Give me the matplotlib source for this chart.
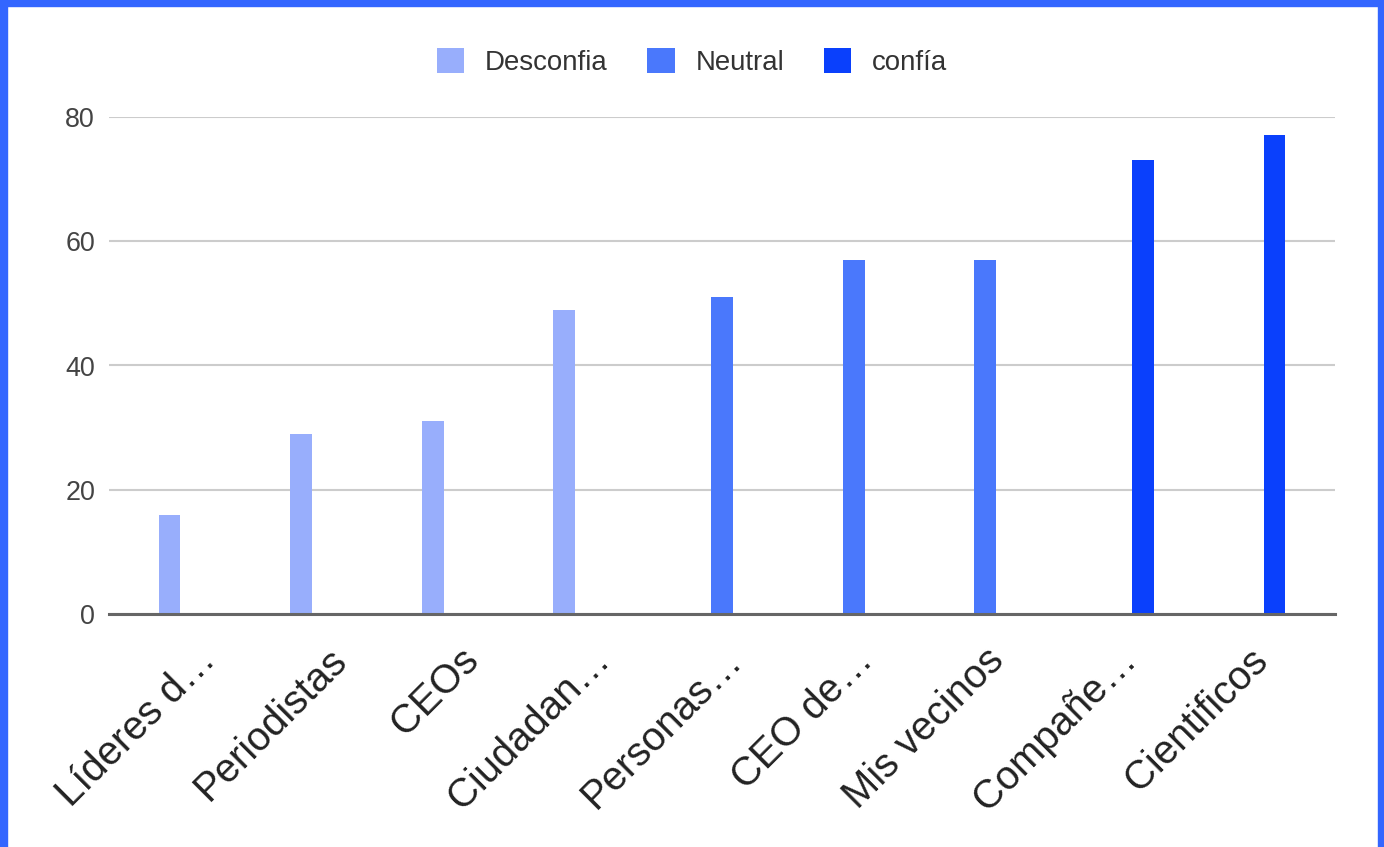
import matplotlib
matplotlib.use("Agg")
import matplotlib.pyplot as plt
from matplotlib.patches import Patch, Rectangle
import numpy as np

plt.rcParams['font.family'] = ['Liberation Sans', 'DejaVu Sans']

categories = ["Líderes d…", "Periodistas", "CEOs", "Ciudadan…", "Personas…",
              "CEO de…", "Mis vecinos", "Compañe…", "Cientificos"]
values = [16, 29, 31, 49, 51, 57, 57, 73, 77]
groups = ["Desconfia", "Desconfia", "Desconfia", "Desconfia", "Neutral",
          "Neutral", "Neutral", "confía", "confía"]
series = ["Desconfia", "Neutral", "confía"]
colors = {"Desconfia": "#98aefc", "Neutral": "#4a78fc", "confía": "#0a40fc"}
yticks = [0, 20, 40, 60, 80]

W, H = 1384, 847
fig = plt.figure(figsize=(W / 100, H / 100), dpi=100)
fig.patch.set_facecolor("white")

ax = fig.add_axes([109 / W, 1 - 614.3 / H, (1335 - 109) / W, (614.3 - 116.7) / H])
x = np.arange(len(categories))
slot = 0.2
for s_i, s in enumerate(series):
    idx = [i for i, g in enumerate(groups) if g == s]
    ax.bar(x[idx] + (s_i - 1) * slot, [values[i] for i in idx], width=0.167,
           color=colors[s], zorder=3, linewidth=0)

ax.set_xlim(-0.66, len(categories) - 1 + 0.66)
ax.set_ylim(0, 80)
ax.set_yticks(yticks)
ax.set_yticklabels([str(t) for t in yticks], fontsize=19.4, color="#444444")
ax.yaxis.grid(True, color="#cccccc", linewidth=1.5, zorder=0)
ax.set_axisbelow(True)
for sp in ["top", "right", "left"]:
    ax.spines[sp].set_visible(False)
ax.spines["bottom"].set_color("#666666")
ax.spines["bottom"].set_linewidth(2.2)
ax.spines["bottom"].set_zorder(4)
ax.tick_params(axis="y", length=0, pad=10)
ax.tick_params(axis="x", length=0, pad=19)
ax.set_xticks(x)
ax.set_xticklabels(categories, rotation=45, ha="right", va="top",
                   rotation_mode="anchor", fontsize=28.8, color="#222222")

handles = [Patch(facecolor=colors[s], edgecolor="none") for s in series]
fig.legend(handles, series, loc="center", bbox_to_anchor=(0.5, 1 - 62 / H),
           ncol=3, frameon=False, fontsize=19.9, handlelength=0.98,
           handleheight=1.0, handletextpad=0.75, columnspacing=1.45,
           labelcolor="#333333")

border = "#3366ff"
fig.patches.append(Rectangle((0, 0), 7 / W, 1, transform=fig.transFigure,
                             color=border, zorder=10))
fig.patches.append(Rectangle((0, 1 - 6 / H), 1, 6 / H, transform=fig.transFigure,
                             color=border, zorder=10))
fig.patches.append(Rectangle((1 - 6 / W, 0), 6 / W, 1, transform=fig.transFigure,
                             color=border, zorder=10))

fig.savefig("out.png", dpi=100, facecolor="white")
